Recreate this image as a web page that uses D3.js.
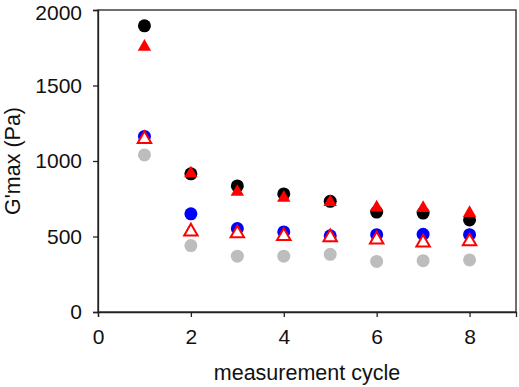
<!DOCTYPE html>
<html>
<head>
<meta charset="utf-8">
<script src="https://cdn.jsdelivr.net/npm/d3@7"></script>
<style>
  html, body { margin: 0; padding: 0; background: #fff; }
  svg { display: block; font-family: "Liberation Sans", Arial, sans-serif; }
</style>
</head>
<body>
<svg id="chart" width="519" height="387"></svg>
<script>
const cycles = [1, 2, 3, 4, 5, 6, 7, 8];
const blackCircles = [1895, 915, 835, 782, 733, 662, 655, 610];
const redFilledTriangles = [1756, 918, 795, 755, 727, 692, 688, 655];
const blueCircles = [1163, 650, 553, 530, 505, 512, 515, 512];
const redOpenTriangles = [1145, 533, 520, 503, 495, 480, 460, 467];
const grayCircles = [1040, 440, 370, 370, 382, 335, 340, 345];
const xTicks = [0, 2, 4, 6, 8];
const yTicks = [0, 500, 1000, 1500, 2000];
const xTitle = "measurement cycle";
const yTitle = "G'max (Pa)";

const svg = d3.select("#chart");
const m = { left: 98, right: 3, top: 10, bottom: 75 };
const W = 519, H = 387;
const x = d3.scaleLinear().domain([0, 9]).range([m.left, W - m.right]);
const y = d3.scaleLinear().domain([0, 2000]).range([H - m.bottom, m.top]);

// frame
svg.append("rect")
  .attr("x", x(0)).attr("y", y(2000))
  .attr("width", x(9) - x(0)).attr("height", y(0) - y(2000))
  .attr("fill", "none").attr("stroke", "#222").attr("stroke-width", 1.3);

const xAxis = svg.append("g").attr("transform", `translate(0,${y(0)})`)
  .call(d3.axisBottom(x).tickValues(xTicks).tickSize(5).tickPadding(12).tickFormat(d3.format("d")));
const yAxis = svg.append("g").attr("transform", `translate(${x(0)},0)`)
  .call(d3.axisLeft(y).tickValues(yTicks).tickSize(5).tickPadding(11).tickFormat(d3.format("d")));
[xAxis, yAxis].forEach(a => {
  a.select(".domain").attr("stroke", "#222").attr("stroke-width", 1.3);
  a.selectAll(".tick line").attr("stroke", "#222").attr("stroke-width", 1.3);
  a.selectAll(".tick text").attr("fill", "#111").style("font-size", "21px")
    .style("font-family", '"Liberation Sans", Arial, sans-serif');
});
// keep the top label inside the picture
yAxis.selectAll(".tick").filter(d => d === 2000).select("text").attr("dy", "0.32em").attr("y", 2.5);

svg.append("text")
  .attr("x", (x(0) + x(9)) / 2).attr("y", 380)
  .attr("text-anchor", "middle").attr("fill", "#111")
  .style("font-size", "21.5px").text(xTitle);
svg.append("text")
  .attr("transform", `translate(20,${(y(0) + y(2000)) / 2}) rotate(-90)`)
  .attr("text-anchor", "middle").attr("fill", "#111")
  .style("font-size", "21.5px").text(yTitle);

const tri = d3.symbol().type(d3.symbolTriangle).size(78);
const g = svg.append("g");

function circles(vals, color) {
  g.selectAll(null).data(cycles.map((c, i) => [c, vals[i]])).enter()
    .append("circle").attr("cx", d => x(d[0])).attr("cy", d => y(d[1]))
    .attr("r", 6.5).attr("fill", color);
}
function triangles(vals, fill, stroke, sw) {
  g.selectAll(null).data(cycles.map((c, i) => [c, vals[i]])).enter()
    .append("path").attr("d", tri)
    .attr("transform", d => `translate(${x(d[0])},${y(d[1])})`)
    .attr("fill", fill).attr("stroke", stroke).attr("stroke-width", sw);
}
circles(grayCircles, "#bdbdbd");
circles(blackCircles, "#000000");
triangles(redFilledTriangles, "#ff0000", "none", 0);
circles(blueCircles, "#0000ff");
triangles(redOpenTriangles, "#ffffff", "#ff0000", 2);
</script>
</body>
</html>
